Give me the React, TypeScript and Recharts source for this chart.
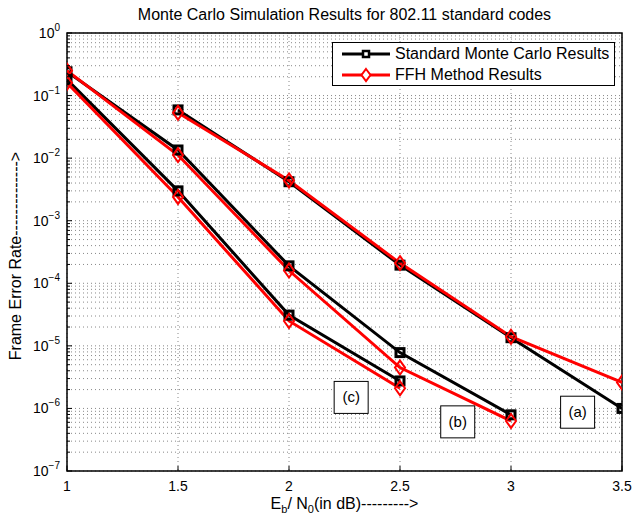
import React from 'react';
import {
  LineChart,
  Line,
  XAxis,
  YAxis,
  CartesianGrid,
  ReferenceArea,
  ReferenceDot,
  Legend,
} from 'recharts';

const FONT = '"Liberation Sans", Arial, Helvetica, sans-serif';

const ebn0Ticks = [1, 1.5, 2, 2.5, 3, 3.5];
const decadeTicks = [1e-7, 1e-6, 1e-5, 1e-4, 1e-3, 1e-2, 1e-1, 1];
const minorSteps = [2, 3, 4, 5, 6, 7, 8, 9];

// code (a)
const snrA = [1.5, 2, 2.5, 3, 3.5];
const stdA = [0.059, 0.0042, 1.95e-4, 1.35e-5, 1.0e-6];
const ffhA = [0.053, 0.0044, 2.1e-4, 1.4e-5, 2.6e-6];
// code (b)
const snrB = [1, 1.5, 2, 2.5, 3];
const stdB = [0.24, 0.0135, 1.9e-4, 7.8e-6, 7.9e-7];
const ffhB = [0.25, 0.0112, 1.6e-4, 4.5e-6, 6.3e-7];
// code (c)
const snrC = [1, 1.5, 2, 2.5];
const stdC = [0.18, 0.003, 3.1e-5, 2.75e-6];
const ffhC = [0.16, 0.0024, 2.5e-5, 2.1e-6];

// text annotations (a), (b), (c)
const noteLabels = ['(a)', '(b)', '(c)'];
const noteX = [3.3, 2.76, 2.28];
const noteY = [8.7e-7, 6.1e-7, 1.5e-6];

const STD_NAME = 'Standard Monte Carlo Results';
const FFH_NAME = 'FFH Method Results';

const toPoints = (xs: number[], ys: number[]) => xs.map((x, i) => ({ x, y: ys[i] }));

const yTicks: number[] = [];
decadeTicks.forEach((d) => {
  yTicks.push(d);
  if (d < 1) minorSteps.forEach((m) => yTicks.push(d * m));
});

const isDecade = (v: number) => Math.abs(Math.log10(v) - Math.round(Math.log10(v))) < 1e-6;

const SquareDot = (props: any) => {
  const { cx, cy } = props;
  if (cx == null || cy == null) return null;
  return <rect x={cx - 4} y={cy - 4} width={8} height={8} fill="none" stroke="#000" strokeWidth={3} />;
};

const DiamondDot = (props: any) => {
  const { cx, cy } = props;
  if (cx == null || cy == null) return null;
  return (
    <path
      d={`M${cx},${cy - 7} L${cx + 5},${cy} L${cx},${cy + 7} L${cx - 5},${cy} Z`}
      fill="none"
      stroke="#ff0000"
      strokeWidth={2}
    />
  );
};

// left axis: label + inward tick
const YTick = (props: any) => {
  const { x, y, payload } = props;
  const v = payload.value;
  const major = isDecade(v);
  const ax = x + 7;
  const exp = Math.round(Math.log10(v));
  return (
    <g>
      <line x1={ax} x2={ax + (major ? 5 : 3)} y1={y} y2={y} stroke="#000" strokeWidth={1} />
      {major && (
        <text x={x} y={y + 5} textAnchor="end" fontFamily={FONT} fontSize={14} fill="#000">
          10
          <tspan dy={-7} fontSize={10}>
            {exp === 0 ? '0' : `\u2212${-exp}`}
          </tspan>
        </text>
      )}
    </g>
  );
};

// right axis: inward tick only
const YTickRight = (props: any) => {
  const { x, y, payload } = props;
  const len = isDecade(payload.value) ? 5 : 3;
  return <line x1={x} x2={x - len} y1={y} y2={y} stroke="#000" strokeWidth={1} />;
};

const XTick = (props: any) => {
  const { x, y, payload } = props;
  const ay = y - 8;
  return (
    <g>
      <line x1={x} x2={x} y1={ay} y2={ay - 5} stroke="#000" strokeWidth={1} />
      <text x={x} y={y + 12} textAnchor="middle" fontFamily={FONT} fontSize={14} fill="#000">
        {payload.value}
      </text>
    </g>
  );
};

const XTickTop = (props: any) => {
  const { x, y } = props;
  return <line x1={x} x2={x} y1={y} y2={y + 5} stroke="#000" strokeWidth={1} />;
};

const NoteBox = (label: string) => (props: any) => {
  const { cx, cy } = props;
  return (
    <g>
      <rect x={cx - 17} y={cy - 16} width={34} height={32} fill="#fff" stroke="#000" strokeWidth={1} />
      <text x={cx} y={cy + 5} textAnchor="middle" fontFamily={FONT} fontSize={15} fill="#000">
        {label}
      </text>
    </g>
  );
};

const LegendBox = () => (
  <div
    style={{
      width: 281,
      height: 42,
      border: '1px solid #000',
      background: '#fff',
      fontFamily: FONT,
      fontSize: 16,
      position: 'relative',
    }}
  >
    <svg width={60} height={42} style={{ position: 'absolute', left: 0, top: 0 }}>
      <line x1={9} x2={57} y1={11} y2={11} stroke="#000" strokeWidth={3} />
      <rect x={30} y={8} width={6} height={6} fill="#fff" stroke="#000" strokeWidth={2.5} />
      <line x1={9} x2={57} y1={32} y2={32} stroke="#ff0000" strokeWidth={3} />
      <path d="M33,26 L37.5,32 L33,38 L28.5,32 Z" fill="#fff" stroke="#ff0000" strokeWidth={2} />
    </svg>
    <div style={{ position: 'absolute', left: 62, top: 1, lineHeight: '19px' }}>{STD_NAME}</div>
    <div style={{ position: 'absolute', left: 62, top: 22, lineHeight: '19px' }}>{FFH_NAME}</div>
  </div>
);

export default function App() {
  const seriesList = [
    { key: 'a-std', pts: toPoints(snrA, stdA), std: true },
    { key: 'a-ffh', pts: toPoints(snrA, ffhA), std: false },
    { key: 'b-std', pts: toPoints(snrB, stdB), std: true },
    { key: 'b-ffh', pts: toPoints(snrB, ffhB), std: false },
    { key: 'c-std', pts: toPoints(snrC, stdC), std: true },
    { key: 'c-ffh', pts: toPoints(snrC, ffhC), std: false },
  ];

  return (
    <div style={{ position: 'absolute', left: 0, top: 0, width: 634, height: 517, background: '#fff' }}>
      <div
        style={{
          position: 'absolute',
          left: 67,
          width: 555,
          top: 6,
          lineHeight: '18px',
          textAlign: 'center',
          fontFamily: FONT,
          fontSize: 16,
        }}
      >
        Monte Carlo Simulation Results for 802.11 standard codes
      </div>
      <LineChart width={634} height={517} margin={{ top: 33, right: 12, bottom: 0, left: 0 }}>
        <CartesianGrid stroke="#888" strokeDasharray="1 3" strokeWidth={1} />
        <XAxis
          dataKey="x"
          type="number"
          domain={[1, 3.5]}
          ticks={ebn0Ticks}
          allowDataOverflow
          axisLine={false}
          tickLine={false}
          height={46}
          tick={<XTick />}
        />
        <XAxis
          xAxisId="top"
          orientation="top"
          type="number"
          domain={[1, 3.5]}
          ticks={ebn0Ticks}
          allowDataOverflow
          axisLine={false}
          tickLine={false}
          tickSize={0}
          tickMargin={0}
          mirror
          height={0}
          tick={<XTickTop />}
        />
        <YAxis
          dataKey="y"
          scale="log"
          type="number"
          domain={[1e-7, 1]}
          ticks={yTicks}
          allowDataOverflow
          axisLine={false}
          tickLine={false}
          tickSize={0}
          tickMargin={7}
          width={67}
          interval={0}
          tick={<YTick />}
        />
        <YAxis
          yAxisId="right"
          orientation="right"
          scale="log"
          type="number"
          domain={[1e-7, 1]}
          ticks={yTicks}
          allowDataOverflow
          axisLine={false}
          tickLine={false}
          tickSize={0}
          tickMargin={0}
          mirror
          width={0}
          interval={0}
          tick={<YTickRight />}
        />
        <ReferenceArea x1={1} x2={3.5} y1={1e-7} y2={1} fill="none" stroke="#000" strokeWidth={1.5} ifOverflow="visible" />
        {seriesList.map((s) => (
          <Line
            key={s.key}
            data={s.pts}
            dataKey="y"
            name={s.std ? STD_NAME : FFH_NAME}
            type="linear"
            stroke={s.std ? '#000' : '#ff0000'}
            strokeWidth={3}
            dot={s.std ? <SquareDot /> : <DiamondDot />}
            activeDot={false}
            isAnimationActive={false}
          />
        ))}
        {noteLabels.map((l, i) => (
          <ReferenceDot key={l} x={noteX[i]} y={noteY[i]} shape={NoteBox(l)} ifOverflow="visible" />
        ))}
        <Legend
          layout="vertical"
          align="center"
          verticalAlign="middle"
          content={<LegendBox />}
          wrapperStyle={{ position: 'absolute', left: 332, top: 42, width: 283 }}
        />
      </LineChart>
      <div
        style={{
          position: 'absolute',
          left: 67,
          width: 555,
          top: 495,
          lineHeight: '18px',
          textAlign: 'center',
          fontFamily: FONT,
          fontSize: 16,
        }}
      >
        E<sub style={{ fontSize: 11 }}>b</sub>/ N<sub style={{ fontSize: 11 }}>0</sub>(in dB)---------&gt;
      </div>
      <div
        style={{
          position: 'absolute',
          left: 16,
          top: 256,
          lineHeight: '18px',
          transform: 'translate(-50%, -50%) rotate(-90deg)',
          whiteSpace: 'nowrap',
          fontFamily: FONT,
          fontSize: 16,
        }}
      >
        Frame Error Rate--------------&gt;
      </div>
    </div>
  );
}
